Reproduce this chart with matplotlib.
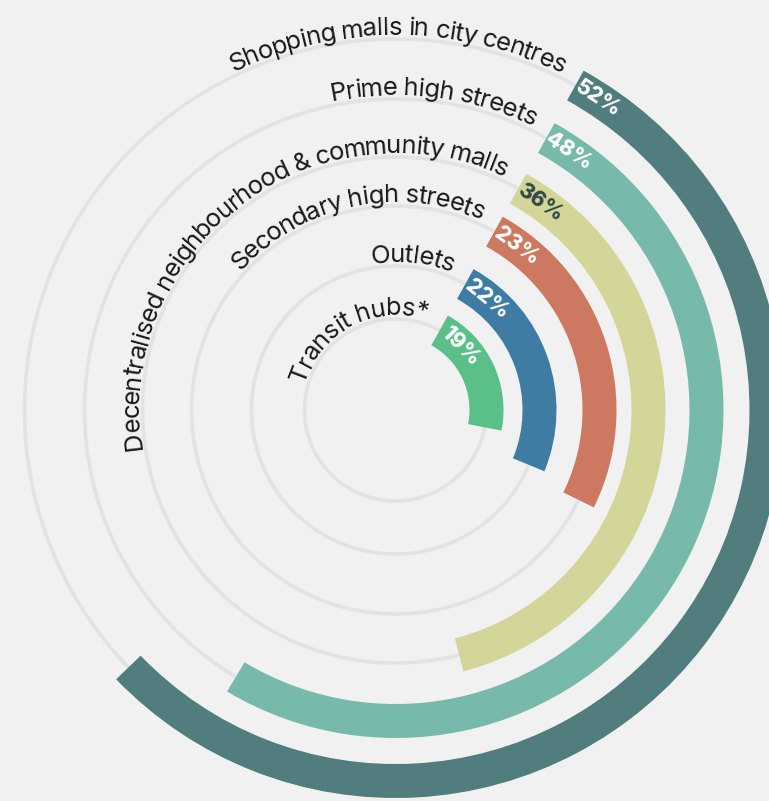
import numpy as np
import matplotlib
matplotlib.use("Agg")
import matplotlib.pyplot as plt
from matplotlib.font_manager import FontProperties, findfont, get_font

# ---- data -------------------------------------------------------------
categories = [
    "Shopping malls in city centres",
    "Prime high streets",
    "Decentralised neighbourhood & community malls",
    "Secondary high streets",
    "Outlets",
    "Transit hubs*",
]
values = [52, 48, 36, 23, 22, 19]
value_labels = ["52%", "48%", "36%", "23%", "22%", "19%"]

# ---- style / layout ---------------------------------------------------
bar_colors = ["#517d7e", "#77b9ab", "#d4d699", "#cd7860", "#3f7ca4", "#5bbf8a"]
pct_colors = ["white", "white", "#33474a", "white", "white", "white"]
track_radii = [371, 311, 253, 204, 144, 91]      # px from the centre
bar_width = 34                                    # px
start_deg = 29                                    # clockwise from 12 o'clock
full_turn_pct = 95                                # value that closes a full circle
label_gap_px = 18
label_offset_px = 4
tracking = 0.93                                   # tighten letter spacing

W, H, DPI = 769, 801, 100
CX, CY = 395.5, 410.0        # centre of the rings in pixels (from top-left)
R = 400.0

BG = "#f0f1f0"
TRACK = "#e1e4e6"
TEXT = "#1a1a1a"

label_font = FontProperties(family=["Inter", "DejaVu Sans"], size=18.5)
pct_font = FontProperties(family=["Inter", "DejaVu Sans"], size=15.5, weight="heavy")

fig = plt.figure(figsize=(W / DPI, H / DPI), dpi=DPI, facecolor=BG)
ax = fig.add_axes([(CX - R) / W, (H - CY - R) / H, 2 * R / W, 2 * R / H],
                  projection="polar")
ax.set_theta_zero_location("N")
ax.set_theta_direction(-1)
ax.set_ylim(0, R)
ax.axis("off")

# full background rings
ring_theta = np.linspace(0, 2 * np.pi, 720)
for r in track_radii:
    ax.plot(ring_theta, np.full_like(ring_theta, r), color=TRACK, lw=2.6,
            zorder=1, solid_capstyle="butt")

# bars
start = np.deg2rad(start_deg)
spans = [np.deg2rad(v / full_turn_pct * 360.0) for v in values]
ax.bar([start] * len(values), [bar_width] * len(values),
       width=spans, bottom=[r - bar_width / 2 for r in track_radii],
       align="edge", color=bar_colors, edgecolor="none", zorder=2)


def char_advances(text, prop):
    """Horizontal advance of each character in pixels."""
    font = get_font(findfont(prop))
    font.set_size(prop.get_size_in_points(), DPI)
    adv = []
    for ch in text:
        g = font.load_char(ord(ch))
        adv.append(tracking * g.linearHoriAdvance / 65536.0)
    return adv


# curved category labels, ending just before the start of each bar
for text, r in zip(categories, track_radii):
    rb = r + label_offset_px
    adv = char_advances(text, label_font)
    total = sum(adv)
    end_ang = start - label_gap_px / rb
    begin_ang = end_ang - total / rb
    pos = 0.0
    for ch, a in zip(text, adv):
        mid = pos + a / 2
        pos += a
        if ch == " ":
            continue
        th = begin_ang + mid / rb
        ax.text(th, rb, ch, fontproperties=label_font, color=TEXT,
                rotation=-np.rad2deg(th), rotation_mode="anchor",
                ha="center", va="baseline", clip_on=False, zorder=4)

# value labels inside the start of each bar
for lab, r, col in zip(value_labels, track_radii, pct_colors):
    th = start + 26.0 / r
    ax.text(th, r, lab, fontproperties=pct_font, color=col,
            rotation=-np.rad2deg(th), rotation_mode="anchor",
            ha="center", va="center", clip_on=False, zorder=5)

fig.savefig("out.png", dpi=DPI, facecolor=BG)
